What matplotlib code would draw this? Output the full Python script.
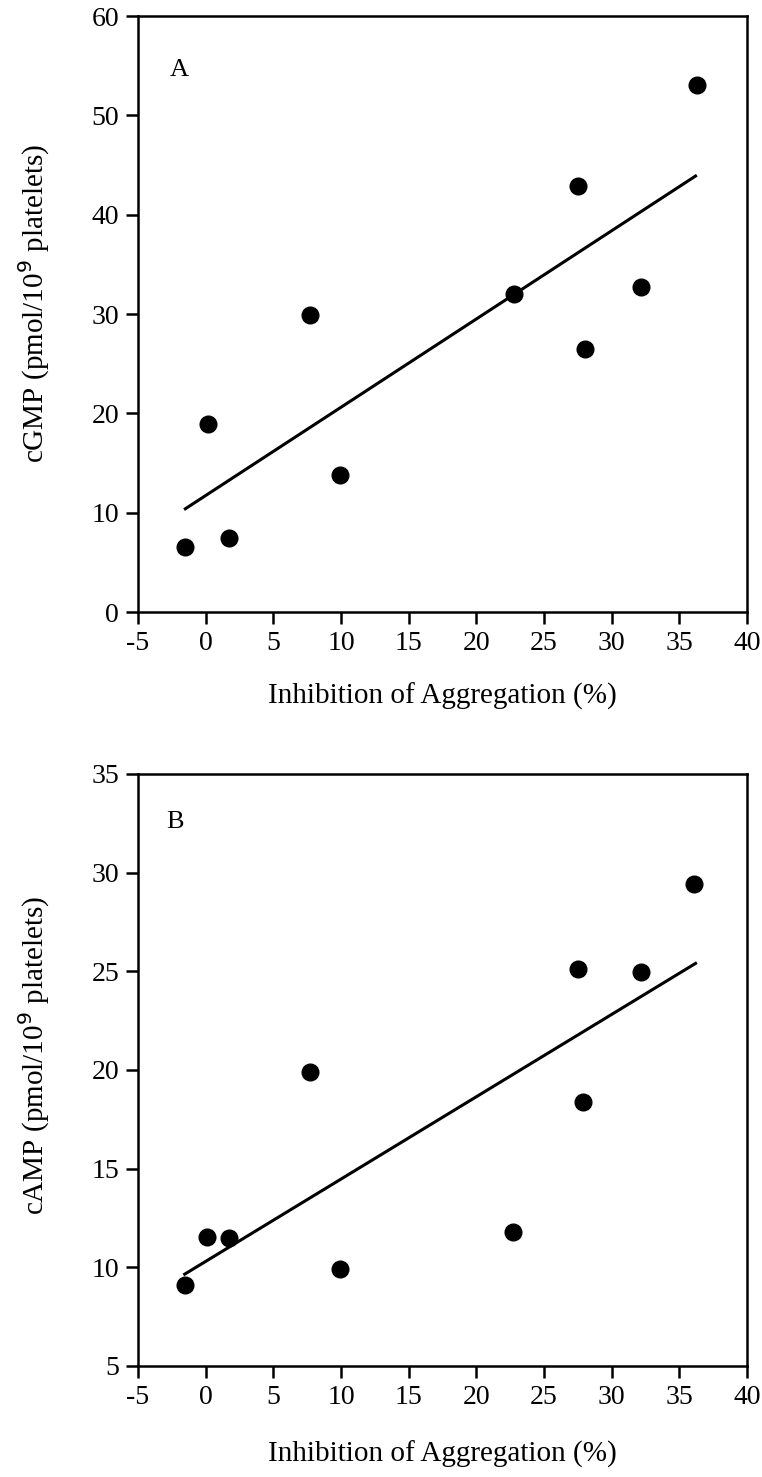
import matplotlib
matplotlib.use("Agg")
import matplotlib.pyplot as plt

plt.rcParams['font.family'] = ['Liberation Serif', 'DejaVu Serif']

# Panel A data
xA = [-1.5, 0.2, 1.7, 7.7, 9.9, 22.8, 27.5, 28.0, 32.2, 36.3]
yA = [6.6, 18.9, 7.5, 29.9, 13.8, 32.0, 42.9, 26.5, 32.7, 53.1]
fitA_x = [-1.5, 36.2]
fitA_y = [10.4, 43.9]

# Panel B data
xB = [-1.55, 0.1, 1.7, 7.7, 9.9, 22.7, 27.5, 27.9, 32.2, 36.1]
yB = [9.1, 11.55, 11.5, 19.9, 9.9, 11.8, 25.1, 18.4, 24.95, 29.4]
fitB_x = [-1.55, 36.2]
fitB_y = [9.65, 25.4]

xticks = [-5, 0, 5, 10, 15, 20, 25, 30, 35, 40]
yticksA = [0, 10, 20, 30, 40, 50, 60]
yticksB = [5, 10, 15, 20, 25, 30, 35]

fig = plt.figure(figsize=(7.62, 14.77), dpi=100)
axA = fig.add_axes([0.1811, 0.5856, 0.7992, 0.4035])
axB = fig.add_axes([0.1811, 0.0752, 0.7992, 0.4008])

def style(ax, yticks, ylabel, letter, lx, ly, xlab_y, ylab_y):
    ax.set_xlim(-5, 40)
    ax.set_ylim(yticks[0], yticks[-1])
    ax.set_xticks(xticks)
    ax.set_xticklabels([str(t) for t in xticks])
    ax.set_yticks(yticks)
    ax.set_yticklabels([str(t) for t in yticks])
    for s in ax.spines.values():
        s.set_linewidth(1.8)
    ax.tick_params(direction='out', length=8.5, width=1.8, labelsize=20, pad=5)
    ax.set_xlabel('Inhibition of Aggregation (%)', fontsize=21)
    ax.set_ylabel(ylabel, fontsize=21)
    ax.xaxis.set_label_coords(0.5, xlab_y)
    ax.yaxis.set_label_coords(-0.142, ylab_y)
    ax.text(lx, ly, letter, transform=ax.transAxes, fontsize=19, ha='left', va='center')

axA.plot(fitA_x, fitA_y, color='black', lw=2.2)
axA.plot(xA, yA, 'o', color='black', markersize=12)
style(axA, yticksA, 'cGMP (pmol/10$^{9}$ platelets)', 'A', 0.052, 0.909, -0.119, 0.517)

axB.plot(fitB_x, fitB_y, color='black', lw=2.2)
axB.plot(xB, yB, 'o', color='black', markersize=12)
style(axB, yticksB, 'cAMP (pmol/10$^{9}$ platelets)', 'B', 0.047, 0.919, -0.127, 0.525)

fig.savefig('out.png', dpi=100)
